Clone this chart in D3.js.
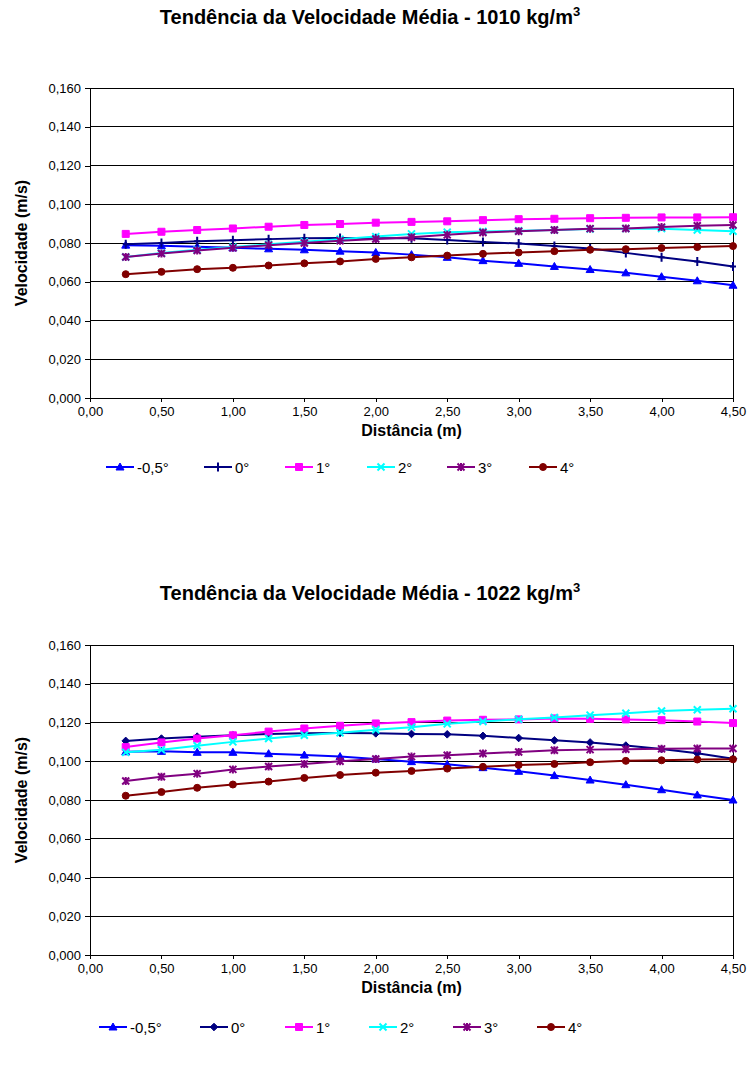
<!DOCTYPE html>
<html>
<head>
<meta charset="utf-8">
<script src="https://cdn.jsdelivr.net/npm/d3@7"></script>
<style>
  body { margin: 0; background: #fff; }
  svg { display: block; }
  text { font-family: "Liberation Sans", Arial, sans-serif; fill: #000; }
</style>
</head>
<body>
<svg id="chart" width="749" height="1070"></svg>
<script>
// Measurement positions along the channel (m)
const distances = [0.25, 0.50, 0.75, 1.00, 1.25, 1.50, 1.75, 2.00, 2.25,
                   2.50, 2.75, 3.00, 3.25, 3.50, 3.75, 4.00, 4.25, 4.50];

const seriesNames = ["-0,5°", "0°", "1°", "2°", "3°", "4°"];
const xTickValues = [0, 0.5, 1, 1.5, 2, 2.5, 3, 3.5, 4, 4.5];
const yTickValues = [0, 0.02, 0.04, 0.06, 0.08, 0.10, 0.12, 0.14, 0.16];

// Mean velocity (m/s), fluid density 1010 kg/m3
const v1010_m05 = [0.0789, 0.0786, 0.0781, 0.0775, 0.0770, 0.0765, 0.0758, 0.0751, 0.0740,
                   0.0726, 0.0709, 0.0695, 0.0679, 0.0663, 0.0646, 0.0626, 0.0605, 0.0582];
const v1010_0   = [0.0793, 0.0800, 0.0809, 0.0814, 0.0820, 0.0824, 0.0826, 0.0825, 0.0825,
                   0.0816, 0.0805, 0.0797, 0.0784, 0.0772, 0.0749, 0.0726, 0.0705, 0.0679];
const v1010_1   = [0.0847, 0.0858, 0.0867, 0.0875, 0.0884, 0.0893, 0.0898, 0.0905, 0.0909,
                   0.0912, 0.0918, 0.0923, 0.0925, 0.0928, 0.0930, 0.0932, 0.0932, 0.0933];
const v1010_2   = [0.0728, 0.0748, 0.0765, 0.0779, 0.0793, 0.0807, 0.0819, 0.0833, 0.0847,
                   0.0856, 0.0860, 0.0863, 0.0867, 0.0872, 0.0874, 0.0874, 0.0867, 0.0861];
const v1010_3   = [0.0728, 0.0746, 0.0761, 0.0775, 0.0789, 0.0800, 0.0812, 0.0821, 0.0830,
                   0.0842, 0.0854, 0.0861, 0.0867, 0.0874, 0.0875, 0.0882, 0.0889, 0.0893];
const v1010_4   = [0.0639, 0.0651, 0.0665, 0.0672, 0.0684, 0.0695, 0.0705, 0.0718, 0.0726,
                   0.0735, 0.0744, 0.0751, 0.0758, 0.0765, 0.0768, 0.0774, 0.0779, 0.0784];

// Mean velocity (m/s), fluid density 1022 kg/m3
const v1022_m05 = [0.1049, 0.1051, 0.1046, 0.1046, 0.1039, 0.1032, 0.1024, 0.1012, 0.0998,
                   0.0984, 0.0967, 0.0948, 0.0926, 0.0903, 0.0879, 0.0853, 0.0826, 0.0800];
const v1022_0   = [0.1105, 0.1117, 0.1127, 0.1134, 0.1141, 0.1144, 0.1146, 0.1144, 0.1141,
                   0.1139, 0.1131, 0.1120, 0.1108, 0.1097, 0.1081, 0.1063, 0.1041, 0.1013];
const v1022_1   = [0.1073, 0.1097, 0.1117, 0.1134, 0.1153, 0.1169, 0.1183, 0.1195, 0.1202,
                   0.1210, 0.1214, 0.1216, 0.1221, 0.1219, 0.1216, 0.1212, 0.1205, 0.1197];
const v1022_2   = [0.1046, 0.1059, 0.1080, 0.1100, 0.1117, 0.1134, 0.1147, 0.1163, 0.1176,
                   0.1193, 0.1205, 0.1217, 0.1226, 0.1238, 0.1248, 0.1259, 0.1266, 0.1271];
const v1022_3   = [0.0898, 0.0920, 0.0936, 0.0958, 0.0973, 0.0986, 0.1000, 0.1012, 0.1024,
                   0.1031, 0.1040, 0.1048, 0.1057, 0.1060, 0.1062, 0.1064, 0.1066, 0.1066];
const v1022_4   = [0.0822, 0.0841, 0.0863, 0.0880, 0.0895, 0.0914, 0.0929, 0.0941, 0.0950,
                   0.0962, 0.0971, 0.0981, 0.0986, 0.0995, 0.1002, 0.1005, 0.1009, 0.1010];

const seriesColors = ["#0000FF", "#000080", "#FF00FF", "#00FFFF", "#800080", "#800000"];

// Marker shapes (path strings centred at 0,0)
const markerPaths = {
  triangle: "M0,-4L4,3L-4,3Z",
  plus: "M0,-4.5V4.5M-3,0H3",
  diamond: "M0,-3.8L3.8,0L0,3.8L-3.8,0Z",
  square: "M-3.5,-3.5H3.5V3.5H-3.5Z",
  cross: "M-3.5,-3.5L3.5,3.5M3.5,-3.5L-3.5,3.5",
  star: "M-3.5,-3.5L3.5,3.5M3.5,-3.5L-3.5,3.5M0,-4V4",
  circle: "M3.5,0A3.5,3.5 0 1 1 -3.5,0A3.5,3.5 0 1 1 3.5,0Z"
};
const filledShapes = new Set(["triangle", "diamond", "square", "circle"]);

const svg = d3.select("#chart");
const fmtY = d => d3.format(".3f")(d).replace(".", ",");
const fmtX = d => d3.format(".2f")(d).replace(".", ",");

function drawChart(cfg) {
  const left = 90, right = 733, top = cfg.top, bottom = cfg.top + 310;
  const x = d3.scaleLinear().domain([0, 4.5]).range([left, right]);
  const y = d3.scaleLinear().domain([0, 0.16]).range([bottom, top]);
  const g = svg.append("g");

  // Title
  const t = g.append("text")
    .attr("x", 370).attr("y", cfg.titleY)
    .attr("text-anchor", "middle")
    .style("font-size", "20px").style("font-weight", "bold");
  t.append("tspan").text(cfg.title);
  t.append("tspan").text("3").attr("dy", -8).style("font-size", "13px");

  // Horizontal gridlines
  g.append("g").selectAll("line").data(yTickValues.filter(v => v > 0)).join("line")
    .attr("x1", left).attr("x2", right)
    .attr("y1", d => y(d)).attr("y2", d => y(d))
    .attr("stroke", "#000").attr("stroke-width", 1).attr("shape-rendering", "crispEdges");

  // Plot area border
  g.append("rect").attr("x", left).attr("y", top)
    .attr("width", right - left).attr("height", bottom - top)
    .attr("fill", "none").attr("stroke", "#000").attr("shape-rendering", "crispEdges");

  // Axes
  const ya = g.append("g").attr("transform", `translate(${left},0)`)
    .call(d3.axisLeft(y).tickValues(yTickValues).tickFormat(fmtY).tickSize(5).tickPadding(4));
  const xa = g.append("g").attr("transform", `translate(0,${bottom})`)
    .call(d3.axisBottom(x).tickValues(xTickValues).tickFormat(fmtX).tickSize(4).tickPadding(5));
  [ya, xa].forEach(a => {
    a.selectAll("path, line").attr("stroke", "#000").attr("shape-rendering", "crispEdges");
    a.selectAll("text").style("font-size", "13px").attr("fill", "#000")
      .style("font-family", '"Liberation Sans", Arial, sans-serif');
  });

  // Axis titles
  g.append("text").attr("x", (left + right) / 2).attr("y", bottom + 38)
    .attr("text-anchor", "middle").style("font-size", "16px").style("font-weight", "bold")
    .text("Distância (m)");
  g.append("text")
    .attr("transform", `translate(27,${(top + bottom) / 2}) rotate(-90)`)
    .attr("text-anchor", "middle").style("font-size", "16px").style("font-weight", "bold")
    .text("Velocidade (m/s)");

  // Series lines and markers
  const line = d3.line().x(d => x(d[0])).y(d => y(d[1]));
  cfg.series.forEach((vals, i) => {
    const pts = distances.map((d, k) => [d, vals[k]]);
    const col = seriesColors[i];
    const shape = cfg.markers[i];
    g.append("path").datum(pts).attr("d", line)
      .attr("fill", "none").attr("stroke", col).attr("stroke-width", 2);
    g.append("g").selectAll("path").data(pts).join("path")
      .attr("transform", d => `translate(${x(d[0])},${y(d[1])})`)
      .attr("d", markerPaths[shape])
      .attr("fill", filledShapes.has(shape) ? col : "none")
      .attr("stroke", col).attr("stroke-width", filledShapes.has(shape) ? 1 : 2);
  });

  // Legend
  const lg = g.append("g").attr("transform", `translate(0,${cfg.legendY})`);
  seriesNames.forEach((name, i) => {
    const x0 = cfg.legendX[i];
    const col = seriesColors[i];
    const shape = cfg.markers[i];
    lg.append("line").attr("x1", x0).attr("x2", x0 + 28).attr("y1", 0).attr("y2", 0)
      .attr("stroke", col).attr("stroke-width", 2);
    lg.append("path").attr("transform", `translate(${x0 + 14},0)`)
      .attr("d", markerPaths[shape])
      .attr("fill", filledShapes.has(shape) ? col : "none")
      .attr("stroke", col).attr("stroke-width", filledShapes.has(shape) ? 1 : 2);
    lg.append("text").attr("x", x0 + 31).attr("y", 5.5)
      .style("font-size", "15px").text(name);
  });
}

drawChart({
  top: 88, titleY: 24, legendY: 467,
  title: "Tendência da Velocidade Média - 1010 kg/m",
  series: [v1010_m05, v1010_0, v1010_1, v1010_2, v1010_3, v1010_4],
  markers: ["triangle", "plus", "square", "cross", "star", "circle"],
  legendX: [106, 204, 285, 367, 447, 529]
});

drawChart({
  top: 645, titleY: 600, legendY: 1027,
  title: "Tendência da Velocidade Média - 1022 kg/m",
  series: [v1022_m05, v1022_0, v1022_1, v1022_2, v1022_3, v1022_4],
  markers: ["triangle", "diamond", "square", "cross", "star", "circle"],
  legendX: [99, 200, 285, 369, 453, 537]
});
</script>
</body>
</html>
